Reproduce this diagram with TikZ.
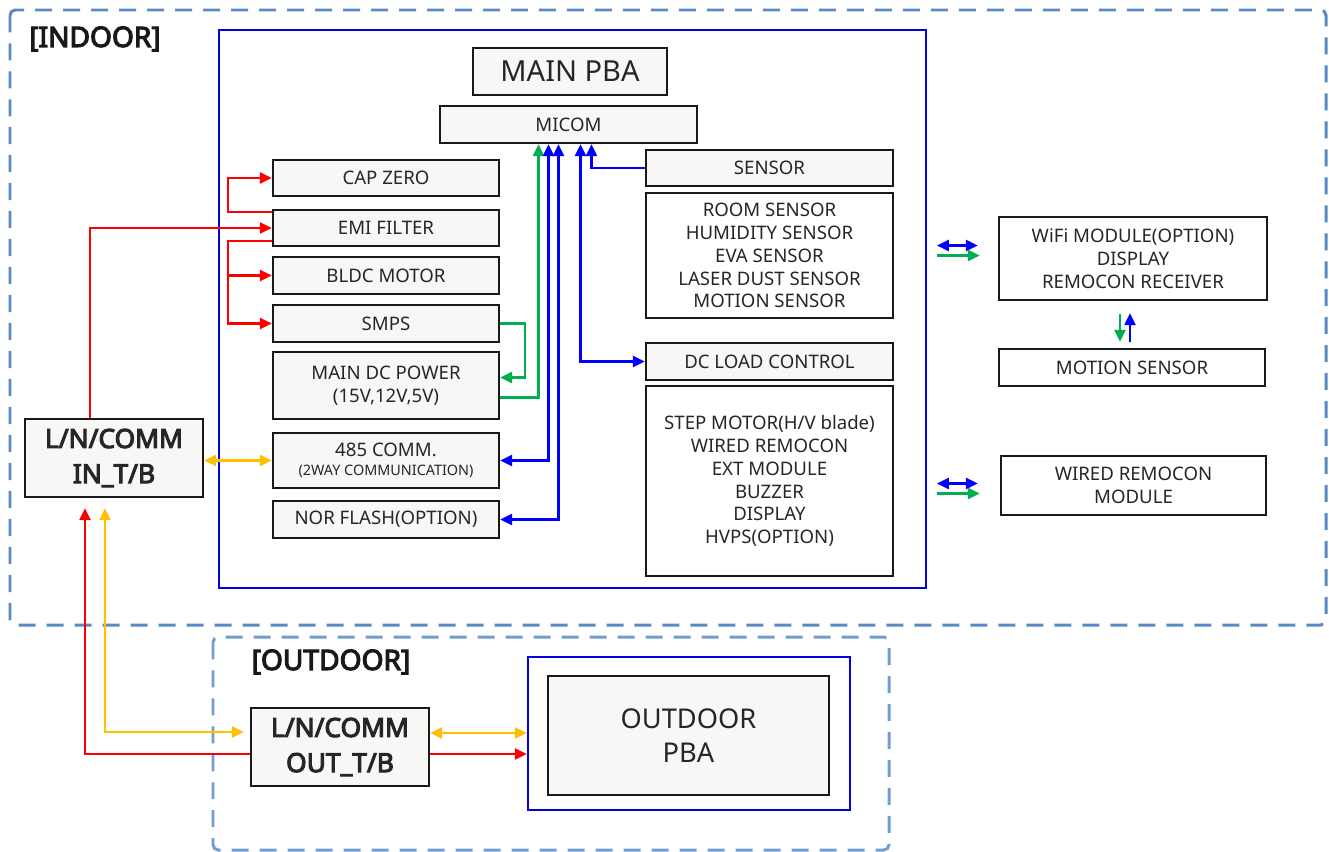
\documentclass[tikz,border=0pt]{standalone}
\usepackage{fontspec}
\setmainfont{Noto Sans}[AutoFakeBold=4]
\usepackage{tikz}
\usetikzlibrary{arrows.meta, calc}
\definecolor{boxfill}{HTML}{F8F7F5}
\definecolor{pbablue}{HTML}{0000E0}
\definecolor{zoneblue}{HTML}{5A8AC6}
\definecolor{acred}{HTML}{FF0000}
\definecolor{acgreen}{HTML}{00B050}
\definecolor{acblue}{HTML}{0000FF}
\definecolor{acyellow}{HTML}{FFC000}

\begin{document}
\begin{tikzpicture}[
      x=0.02cm, y=-0.02cm,
      blk/.style={
        draw=black!90, line width=1.4pt, fill=boxfill, inner sep=0pt,
        align=center, text=black!85, font=\fontsize{10.6}{13}\selectfont
      },
      wblk/.style={blk, fill=white},
      tbox/.style={blk, font=\bfseries\fontsize{15}{20}\selectfont},
      zone/.style={draw=zoneblue, line width=1.7pt,
        dash pattern=on 0.34cm off 0.22cm, rounded corners=3pt},
      frame/.style={draw=pbablue, line width=1.3pt},
      zonelbl/.style={font=\bfseries\fontsize{16}{18}\selectfont, text=black!90},
      tip/.style={-{Triangle[length=2.4mm,width=2.2mm]}, line width=1.4pt},
      dbl/.style={{Triangle[length=2.4mm,width=2.2mm]}-{Triangle[length=2.4mm,width=2.2mm]}, line width=1.4pt}
    ]
    \useasboundingbox (0,0) rectangle (1329,852);
    \draw[zone] (10,10) rectangle (1326,625);
    \draw[zone, draw=zoneblue!85] (213,637) rectangle (889,850);
    \draw[frame] (219,30) rectangle (926,588);
    \node[zonelbl] (indoorlbl) at (95,39) {[INDOOR]};
    \node[zonelbl] (outdoorlbl) at (331,662) {[OUTDOOR]};

    \node[blk, minimum width=3.88cm, minimum height=0.94cm,
      font=\fontsize{16.5}{18}\selectfont] (mainpba) at (570,71.5) {MAIN PBA};
    \node[blk, minimum width=5.14cm, minimum height=0.74cm] (micom) at (568.5,124.5) {MICOM};
    \node[blk, minimum width=4.94cm, minimum height=0.72cm] (sensor) at (769.5,168) {SENSOR};
    \node[wblk, minimum width=4.94cm, minimum height=2.5cm] (senslist) at (769.5,255.5)
        {ROOM SENSOR\\HUMIDITY SENSOR\\EVA SENSOR\\LASER DUST SENSOR\\MOTION SENSOR};
    \node[blk, minimum width=4.94cm, minimum height=0.74cm] (dcload) at (769.5,361.5) {DC LOAD CONTROL};
    \node[wblk, minimum width=4.94cm, minimum height=3.8cm] (loadlist) at (769.5,481)
        {STEP MOTOR(H/V blade)\\WIRED REMOCON\\EXT MODULE\\BUZZER\\DISPLAY\\HVPS(OPTION)};

    \node[blk, minimum width=4.52cm, minimum height=0.72cm] (capzero) at (386,178) {CAP ZERO};
    \node[blk, minimum width=4.52cm, minimum height=0.72cm] (emi) at (386,228) {EMI FILTER};
    \node[blk, minimum width=4.52cm, minimum height=0.74cm] (bldc) at (386,275.5) {BLDC MOTOR};
    \node[blk, minimum width=4.52cm, minimum height=0.74cm] (smps) at (386,323.5) {SMPS};
    \node[blk, minimum width=4.52cm, minimum height=1.34cm] (dcpower) at (386,385.5)
        {MAIN DC POWER\\(15V,12V,5V)};
    \node[blk, minimum width=4.52cm, minimum height=1.1cm] (comm) at (386,460.5)
        {485 COMM.\\[-2pt]{\fontsize{8.2}{10}\selectfont (2WAY COMMUNICATION)}};
    \node[blk, minimum width=4.52cm, minimum height=0.74cm] (norflash) at (386,519.5) {NOR FLASH(OPTION)};

    \node[tbox, minimum width=3.56cm, minimum height=1.56cm] (intb) at (114,458) {L/N/COMM\\IN\_T/B};

    \node[wblk, minimum width=5.36cm, minimum height=1.66cm] (wifi) at (1133,258.5)
        {WiFi MODULE(OPTION)\\DISPLAY\\REMOCON RECEIVER};
    \node[wblk, minimum width=5.32cm, minimum height=0.74cm] (motion) at (1132,367.5) {MOTION SENSOR};
    \node[wblk, minimum width=5.3cm, minimum height=1.18cm] (wired) at (1133.5,485.5)
        {WIRED REMOCON\\MODULE};

    \node[tbox, minimum width=3.56cm, minimum height=1.56cm] (outtb) at (340,747) {L/N/COMM\\OUT\_T/B};
    \node[frame, minimum width=6.44cm, minimum height=3.06cm] (outframe) at (689,733.5) {};
    \node[blk, minimum width=5.62cm, minimum height=2.38cm,
      font=\fontsize{15.5}{19}\selectfont] (outpba) at (688.5,735.5) {OUTDOOR\\PBA};

    \draw[tip, acred] ($(intb.north)+(-24,0)$) |- (emi.west);
    \draw[tip, acred] ($(emi.north west)+(0,3)$) -- ++(-44,0) |- (capzero.west);
    \draw[tip, acred] ($(emi.south west)+(0,-6)$) -- ++(-44,0) coordinate (rsplit) |- (bldc.west);
    \draw[tip, acred] (rsplit) |- (smps.west);

    \draw[tip, acgreen] (smps.east) -- ++(25,0) |- ($(dcpower.east)+(0,-8)$);
    \draw[tip, acgreen] ($(dcpower.east)+(0,12)$) -| ($(micom.south)+(-30,0)$);

    \draw[dbl, acblue] ($(micom.south)+(-20,0)$) |- (comm.east);
    \draw[dbl, acblue] ($(micom.south)+(-10,0)$) |- (norflash.east);
    \draw[dbl, acblue] ($(micom.south)+(12,0)$) |- (dcload.west);
    \draw[tip, acblue] (sensor.west) -| ($(micom.south)+(23,0)$);

    \draw[dbl, acyellow] (intb.east |- comm.west) -- (comm.west);

    \draw[dbl, acblue] ($(wifi.west)+(-61,-13)$) -- ($(wifi.west)+(-20,-13)$);
    \draw[tip, acgreen] ($(wifi.west)+(-61,-3)$) -- ($(wifi.west)+(-18,-3)$);
    \draw[tip, acgreen] ($(wifi.south)+(-13,13)$) -- ($(motion.north)+(-12,-6)$);
    \draw[tip, acblue] ($(motion.north)+(-2,-6)$) -- ($(wifi.south)+(-3,12)$);
    \draw[dbl, acblue] ($(wired.west)+(-63,-2)$) -- ($(wired.west)+(-22,-2)$);
    \draw[tip, acgreen] ($(wired.west)+(-63,8)$) -- ($(wired.west)+(-20,8)$);

    \draw[tip, acred, shorten >=0.2cm] ($(outtb.west)+(0,7)$) -| ($(intb.south)+(-29,0)$);
    \draw[dbl, acyellow, shorten <=0.2cm, shorten >=0.12cm] ($(intb.south)+(-9,0)$) |- ($(outtb.west)+(0,-15)$);
    \draw[dbl, acyellow] ($(outtb.east)+(0,-14)$) coordinate (ya) -- (ya -| outframe.west);
    \draw[tip, acred] ($(outtb.east)+(0,7)$) coordinate (ra) -- (ra -| outframe.west);
  \end{tikzpicture}
\end{document}
